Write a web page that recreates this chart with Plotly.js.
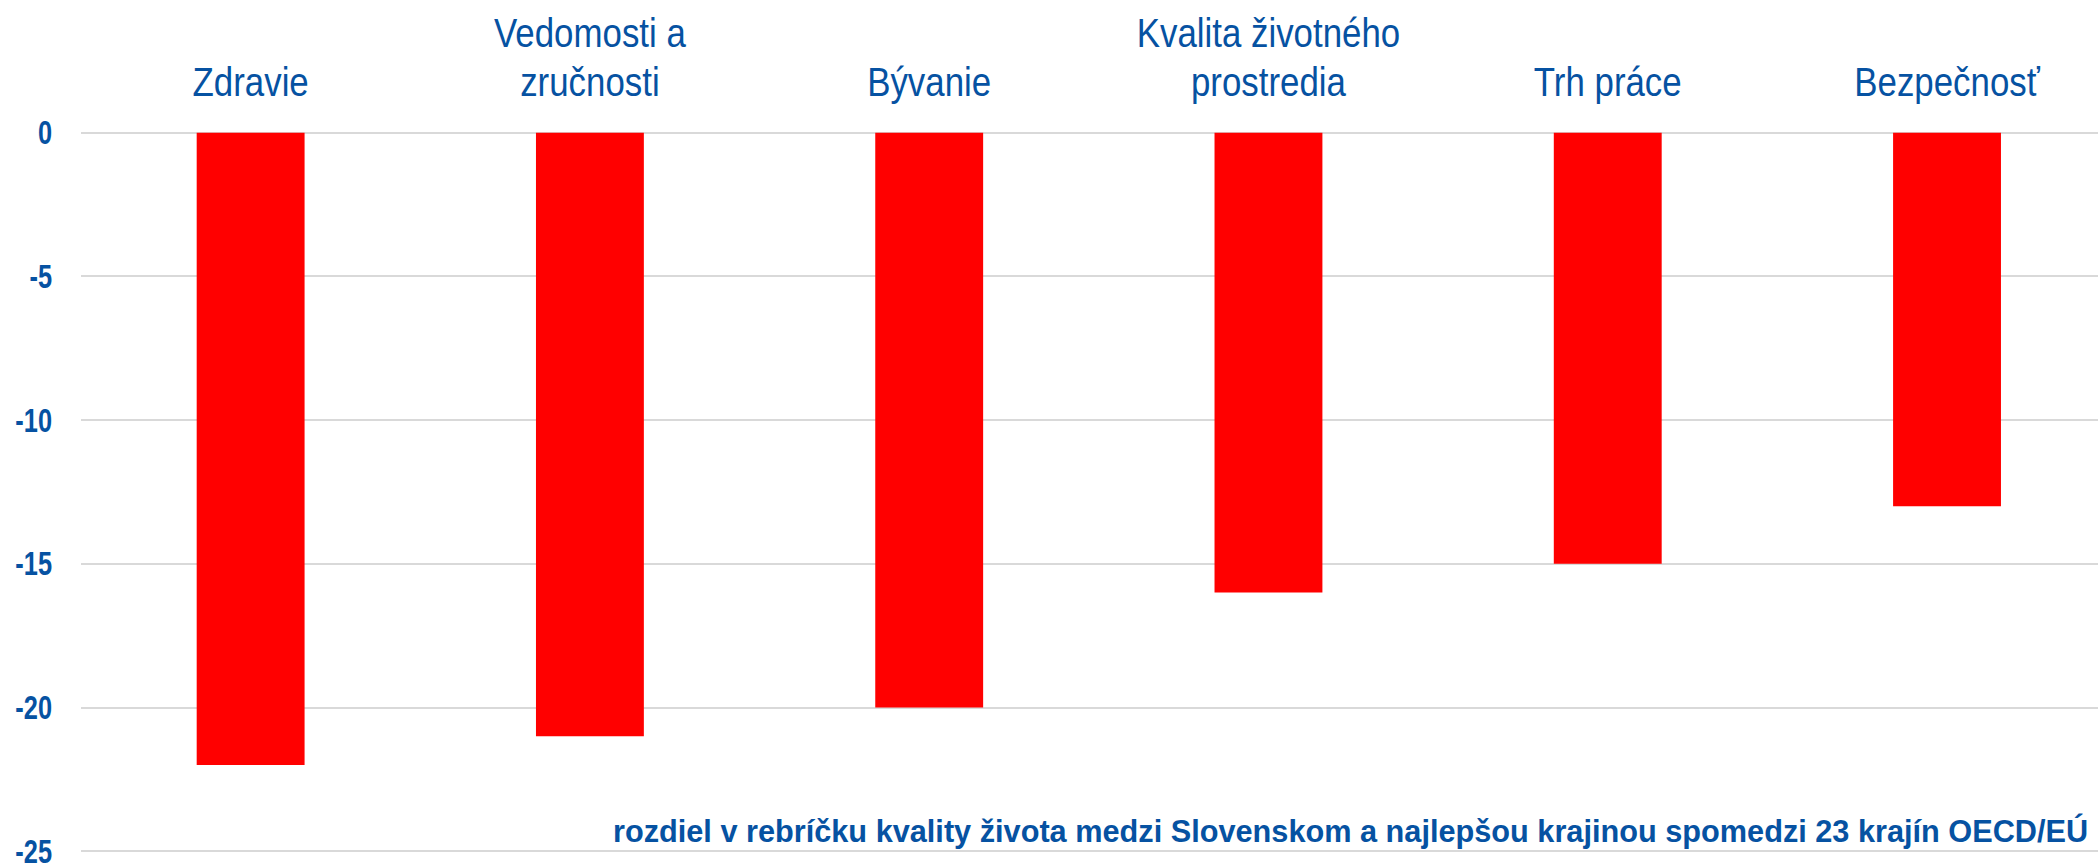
<!DOCTYPE html>
<html>
<head>
<meta charset="utf-8">
<script src="https://cdn.plot.ly/plotly-3.0.1.min.js"></script>
<style>html,body{margin:0;padding:0;background:#fff;}#chart{width:2098px;height:864px;}</style>
</head>
<body>
<div id="chart"></div>
<script>
const categories = ["Zdravie", "Vedomosti a<br>zručnosti", "Bývanie", "Kvalita životného<br>prostredia", "Trh práce", "Bezpečnosť"];
const values = [-22, -21, -20, -16, -15, -13];
const yTicks = [0, -5, -10, -15, -20, -25];
const noteText = "rozdiel v rebríčku kvality života medzi Slovenskom a najlepšou krajinou spomedzi 23 krajín OECD/EÚ";

const blue = "#0652a2";
const fontFam = "'Liberation Sans', Arial, sans-serif";

// narrow-font emulation: horizontal squeeze ratios of the text
const catSqueeze = 0.85;
const tickSqueeze = 0.78;

function squeeze(selector, ratio, fixSpacing) {
  document.querySelectorAll(selector).forEach(function (t) {
    const lines = t.querySelectorAll("tspan.line");
    const targets = lines.length ? Array.from(lines) : [t];
    targets.forEach(function (el) {
      const L = el.getComputedTextLength();
      el.setAttribute("textLength", (L * ratio).toFixed(2));
      el.setAttribute("lengthAdjust", "spacingAndGlyphs");
    });
    if (fixSpacing && lines.length === 2) {
      lines[0].setAttribute("dy", "0.12em");
    }
  });
}

Plotly.newPlot("chart", [{
  type: "bar",
  x: categories,
  y: values,
  marker: {color: "#ff0000"},
  hoverinfo: "x+y"
}], {
  width: 2098, height: 864,
  margin: {l: 81, r: 0, t: 131, b: 11},
  paper_bgcolor: "#fff", plot_bgcolor: "#fff",
  bargap: 0.682,
  showlegend: false,
  xaxis: {
    side: "top",
    type: "category",
    range: [-0.5, 5.445],
    showgrid: false, zeroline: false, showline: false,
    ticks: "",
    tickfont: {family: fontFam, size: 41, color: blue},
    ticklabelstandoff: 26,
    ticklabeloverflow: "allow"
  },
  yaxis: {
    range: [-25.06, 0.06],
    tickvals: yTicks,
    ticktext: yTicks.map(String),
    showgrid: true, gridcolor: "#d9d9d9", gridwidth: 2,
    zeroline: false, showline: false,
    ticks: "",
    tickfont: {family: fontFam, size: 32.5, color: blue, weight: "bold"},
    ticklabelstandoff: 28,
    ticklabeloverflow: "allow"
  },
  annotations: [{
    text: noteText,
    xref: "paper", yref: "y",
    x: 0.996, y: -24.3,
    xanchor: "right", yanchor: "middle",
    showarrow: false,
    font: {family: fontFam, size: 30.7, color: blue, weight: "bold"}
  }]
}, {displayModeBar: false, staticPlot: true}).then(function () {
  squeeze(".xtick text", catSqueeze, true);
  squeeze(".ytick text", tickSqueeze, false);
});
</script>
</body>
</html>
